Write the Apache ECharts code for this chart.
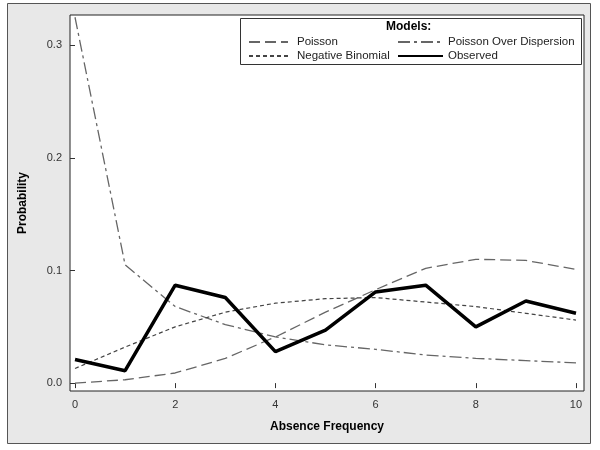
<!DOCTYPE html>
<html>
<head>
<meta charset="utf-8">
<script src="https://cdn.jsdelivr.net/npm/echarts@6/dist/echarts.min.js"></script>
<style>
html, body { margin: 0; padding: 0; background: #fff; }
#main { width: 600px; height: 450px; }
</style>
</head>
<body>
<div id="main"></div>
<script>
var xValues = [0, 1, 2, 3, 4, 5, 6, 7, 8, 9, 10];
var poisson = [0.000, 0.003, 0.009, 0.022, 0.041, 0.063, 0.083, 0.102, 0.110, 0.109, 0.101];
var poissonOD = [0.325, 0.105, 0.068, 0.052, 0.041, 0.034, 0.030, 0.025, 0.022, 0.020, 0.018];
var negBinomial = [0.013, 0.032, 0.050, 0.063, 0.071, 0.075, 0.076, 0.072, 0.068, 0.062, 0.056];
var observed = [0.021, 0.011, 0.087, 0.076, 0.028, 0.047, 0.081, 0.087, 0.050, 0.073, 0.062];
var xTicks = [0, 2, 4, 6, 8, 10];
var yTicks = [0, 0.1, 0.2, 0.3];

function pairs(arr) {
    return arr.map(function (v, i) { return [xValues[i], v]; });
}

var font = 'Liberation Sans, Arial, sans-serif';
var myChart = echarts.init(document.getElementById('main'));
var option = {
    animation: false,
    textStyle: { fontFamily: font },
    graphic: [
        {
            type: 'rect', z: -10, silent: true,
            shape: { x: 7.5, y: 3.5, width: 583, height: 440 },
            style: { fill: '#e8e8e8', stroke: '#555', lineWidth: 1 }
        },
        {
            type: 'rect', z: 10, silent: true,
            shape: { x: 240.5, y: 18.5, width: 341, height: 46 },
            style: { fill: '#fff', stroke: '#333', lineWidth: 1 }
        },
        {
            type: 'text', z: 11, silent: true,
            left: 386, top: 21,
            style: { text: 'Models:', fill: '#000', font: 'bold 12px ' + font }
        }
    ],
    grid: {
        left: 70, right: 16, top: 15, bottom: 59,
        show: true, backgroundColor: '#fff', borderColor: '#222', borderWidth: 1
    },
    legend: [
        {
            left: 248, top: 36, padding: 0, orient: 'vertical', itemWidth: 39, itemHeight: 12, itemGap: 2,
            data: ['Poisson', 'Negative Binomial'],
            itemStyle: { opacity: 0 },
            textStyle: { fontSize: 11.5, color: '#222', fontFamily: font, padding: [0, 0, 0, 4] },
            z: 12
        },
        {
            left: 397, top: 36, padding: 0, orient: 'vertical', itemWidth: 45, itemHeight: 12, itemGap: 2,
            data: ['Poisson Over Dispersion', 'Observed'],
            itemStyle: { opacity: 0 },
            textStyle: { fontSize: 11.5, color: '#222', fontFamily: font, padding: [0, 0, 0, 0] },
            z: 12
        }
    ],
    xAxis: {
        type: 'value', min: -0.1, max: 10.16,
        name: 'Absence Frequency', nameLocation: 'middle', nameGap: 30,
        nameTextStyle: { fontWeight: 'bold', fontSize: 12, color: '#000' },
        axisLine: { show: false },
        axisTick: { show: true, customValues: xTicks, length: 5, lineStyle: { color: '#333' } },
        axisLabel: { customValues: xTicks, color: '#333', fontSize: 11, margin: 8 },
        splitLine: { show: false }
    },
    yAxis: {
        type: 'value', min: -0.007, max: 0.327,
        name: 'Probability', nameLocation: 'middle', nameGap: 41,
        nameTextStyle: { fontWeight: 'bold', fontSize: 12, color: '#000' },
        axisLine: { show: false },
        axisTick: { show: true, customValues: yTicks, length: 5, lineStyle: { color: '#333' } },
        axisLabel: {
            customValues: yTicks, color: '#333', fontSize: 11, margin: 8,
            formatter: function (v) { return v.toFixed(1); }
        },
        splitLine: { show: false }
    },
    series: [
        {
            name: 'Poisson', type: 'line', symbol: 'none', data: pairs(poisson),
            lineStyle: { color: '#666', width: 1.3, type: [11, 5] }, itemStyle: { color: '#666' }
        },
        {
            name: 'Poisson Over Dispersion', type: 'line', symbol: 'none', data: pairs(poissonOD),
            lineStyle: { color: '#666', width: 1.3, type: [12, 4, 3, 4] }, itemStyle: { color: '#666' }
        },
        {
            name: 'Negative Binomial', type: 'line', symbol: 'none', data: pairs(negBinomial),
            lineStyle: { color: '#444', width: 1.2, type: [4, 3] }, itemStyle: { color: '#444' }
        },
        {
            name: 'Observed', type: 'line', symbol: 'none', data: pairs(observed),
            lineStyle: { color: '#000', width: 3.5 }, itemStyle: { color: '#000' }
        }
    ]
};
myChart.setOption(option, true);
</script>
</body>
</html>
